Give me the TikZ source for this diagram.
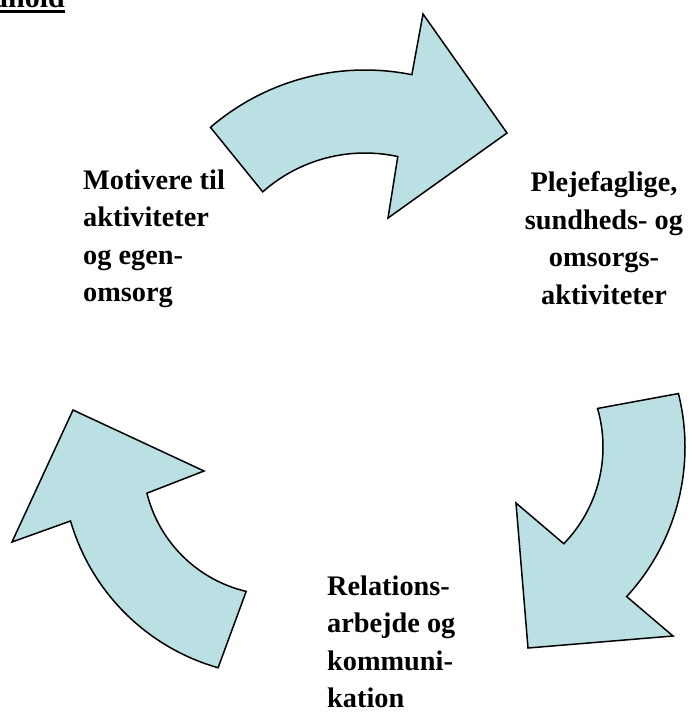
\documentclass[tikz,border=0pt]{standalone}
\usepackage{fontspec}
\setmainfont{Liberation Serif}
\usetikzlibrary{calc}
\definecolor{arrowfill}{HTML}{BBE0E3}
\tikzset{
  cyclearrow/.style={fill=arrowfill, draw=black, line width=1.5pt, line join=miter},
  steptext/.style={inner sep=0pt, font=\bfseries\fontsize{28.3}{37.4}\selectfont},
  titletext/.style={inner sep=0pt, font=\bfseries\fontsize{30}{36}\selectfont}
}
\begin{document}
\begin{tikzpicture}[x=1pt, y=1pt]
  \path[use as bounding box] (0,0) rectangle (696,-716);
  \clip (0,0) rectangle (696,-716);
  % centres of the three curved arrows
  \coordinate (c1) at (365,-307);
  \coordinate (c2) at (464,-447);
  \coordinate (c3) at (277,-461);
  % head points
  \coordinate (h1a) at (423,-14);
  \coordinate (h1b) at (507,-133);
  \coordinate (h1c) at (388,-218);
  \coordinate (h2a) at (673,-636);
  \coordinate (h2b) at (528,-648);
  \coordinate (h2c) at (516,-503);
  \coordinate (h3a) at (12,-542);
  \coordinate (h3b) at (73,-410);
  \coordinate (h3c) at (204,-471);
  % top arrow
  \draw[cyclearrow] ($(c1)+(130.7:237)$) arc[start angle=130.7, end angle=78.6, radius=237pt]
    -- (h1a) -- (h1b) -- (h1c)
    -- ($(c1)+(77.7:154)$) arc[start angle=77.7, end angle=131.6, radius=154pt] -- cycle;
  % right arrow
  \draw[cyclearrow] ($(c2)+(14:221)$) arc[start angle=14, end angle=-42.6, radius=221pt]
    -- (h2a) -- (h2b) -- (h2c)
    -- ($(c2)+(-44.1:139)$) arc[start angle=-44.1, end angle=16.1, radius=139pt] -- cycle;
  % left arrow
  \draw[cyclearrow] ($(c3)+(254.1:215)$) arc[start angle=254.1, end angle=196.2, radius=215pt]
    -- (h3a) -- (h3b) -- (h3c)
    -- ($(c3)+(193.9:134)$) arc[start angle=193.9, end angle=256.7, radius=134pt] -- cycle;
  % title
  \node[titletext, anchor=base east] (title) at (65,-7.5) {Indhold};
  \draw[line width=3.3pt] ([yshift=-4.2pt]title.base west) -- ([yshift=-4.2pt]title.base east);
  % labels (anchored at the baseline of their last line)
  \node[steptext, align=left, anchor=base west] (motiv) at (83,-301.5)
    {Motivere til\\aktiviteter\\og egen-\\omsorg};
  \node[steptext, align=center, anchor=base] (pleje) at (604,-304)
    {Plejefaglige,\\sundheds- og\\omsorgs-\\aktiviteter};
  \node[steptext, align=left, anchor=base west] (relat) at (327,-707.5)
    {Relations-\\arbejde og\\kommuni-\\kation};
\end{tikzpicture}
\end{document}
